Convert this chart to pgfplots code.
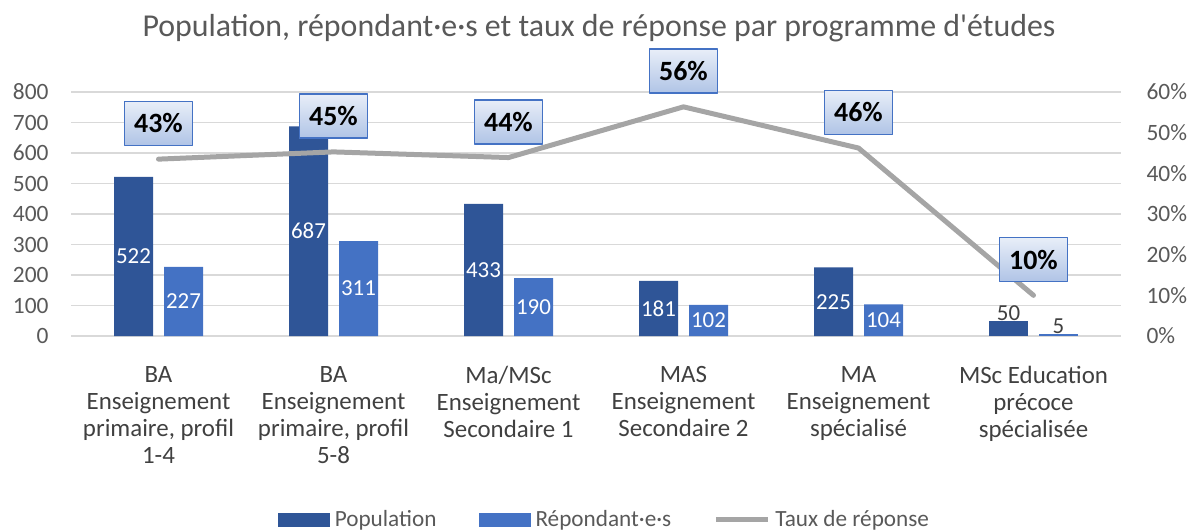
\documentclass[border=0pt]{standalone}
\usepackage{pgfplots}
\usepackage{pgfplotstable}
\pgfplotsset{compat=1.18}
\usepackage{fontspec}
\setmainfont{Carlito}
\usetikzlibrary{calc,shadings}
\definecolor{popc}{HTML}{2F5597}
\definecolor{repc}{HTML}{4472C4}
\definecolor{linec}{HTML}{A5A5A5}
\definecolor{gridc}{HTML}{D9D9D9}
\definecolor{txtc}{HTML}{595959}
\definecolor{darktxt}{HTML}{404040}
\definecolor{boxtop}{HTML}{E8EEF8}
\definecolor{boxbot}{HTML}{B0C4E6}
\pgfplotsset{/pgf/number format/assume math mode=true}

\pgfplotstableread{
x pop rep
0 522 227
1 687 311
2 433 190
3 181 102
4 225 104
}\bigbars
\pgfplotstableread{
x pop rep
5 50 5
}\smallbars
\pgfplotstableread{
x rate
0 43.49
1 45.27
2 43.88
3 56.35
4 46.22
5 10.00
}\rates

\begin{document}
\begin{tikzpicture}
\begin{axis}[
  name=main,
  scale only axis, width=1050bp, height=244bp,
  xmin=-0.5, xmax=5.5, ymin=0, ymax=800,
  axis line style={draw=none},
  major tick length=0pt,
  ytick={0,100,...,800},
  ymajorgrids, grid style={gridc, line width=1.5bp},
  yticklabel style={font=\fontsize{23.5}{26}\selectfont, text=txtc, xshift=-19bp},
  xtick={0,1,2,3,4,5},
  xticklabels={{BA\\Enseignement\\primaire, profil\\1-4},{BA\\Enseignement\\primaire, profil\\5-8},{Ma/MSc\\Enseignement\\Secondaire 1},{MAS\\Enseignement\\Secondaire 2},{MA\\Enseignement\\spécialisé},{MSc Education\\précoce\\spécialisée}},
  xticklabel style={align=center, anchor=north, yshift=-27bp, font=\fontsize{25}{27}\selectfont, text=darktxt},
  legend columns=3,
  legend style={draw=none, fill=none, at={(0.508,-0.752)}, anchor=center,
    font=\fontsize{23.3}{25}\selectfont, text=txtc,
    /tikz/every odd column/.append style={column sep=3bp},
    /tikz/every even column/.append style={column sep=40bp}},
  legend image code/.code={\fill[#1] (0bp,-7bp) rectangle (52bp,7bp);},
]
\addplot[ybar, bar width=39bp, bar shift=-25bp, fill=popc, draw=none,
  nodes near coords, visualization depends on=y \as \rawy,
  every node near coord/.append style={anchor=center, text=white, font=\fontsize{23}{25}\selectfont,
    xshift=-25bp, shift={(axis direction cs:0,-\rawy/2)}}]
  table[x=x,y=pop]{\bigbars};
\addlegendentry{Population}
\addplot[ybar, bar width=39bp, bar shift=25bp, fill=repc, draw=none,
  nodes near coords, visualization depends on=y \as \rawy,
  every node near coord/.append style={anchor=center, text=white, font=\fontsize{23}{25}\selectfont,
    xshift=25bp, shift={(axis direction cs:0,-\rawy/2)}}]
  table[x=x,y=rep]{\bigbars};
\addlegendentry{Répondant·e·s}
\addplot[ybar, forget plot, bar width=39bp, bar shift=-25bp, fill=popc, draw=none,
  nodes near coords,
  every node near coord/.append style={anchor=south, text=darktxt, font=\fontsize{23}{25}\selectfont, xshift=-25bp, yshift=-3bp}]
  table[x=x,y=pop]{\smallbars};
\addplot[ybar, forget plot, bar width=39bp, bar shift=25bp, fill=repc, draw=none,
  nodes near coords,
  every node near coord/.append style={anchor=south, text=darktxt, font=\fontsize{23}{25}\selectfont, xshift=25bp, yshift=-3bp}]
  table[x=x,y=rep]{\smallbars};
\addlegendimage{legend image code/.code={\draw[linec, line width=5bp] (0bp,0bp) -- (52bp,0bp);}}
\addlegendentry{Taux de réponse}
\end{axis}
\begin{axis}[
  scale only axis, width=1050bp, height=244bp,
  xmin=-0.5, xmax=5.5, ymin=0, ymax=60,
  axis line style={draw=none},
  major tick length=0pt,
  xtick=\empty,
  ytick={0,10,...,60},
  yticklabel pos=right,
  yticklabel={\pgfmathprintnumber{\tick}\%},
  yticklabel style={font=\fontsize{23.5}{26}\selectfont, text=txtc, xshift=22bp},
  clip=false,
]
\addplot[linec, line width=5bp, line cap=round, line join=round,
  nodes near coords={\pgfmathprintnumber[fixed,precision=0]{\pgfplotspointmeta}\%},
  every node near coord/.append style={anchor=south, yshift=13bp, draw=repc, line width=1.5bp,
    top color=boxtop, bottom color=boxbot, minimum width=68bp, minimum height=44bp,
    inner sep=2bp, font=\bfseries\fontsize{28}{30}\selectfont, text=black}]
  table[x=x,y=rate]{\rates};
\end{axis}
\node[font=\fontsize{32}{34}\selectfont, text=txtc] at ($(main.north)+(3bp,64bp)$) {Population, répondant·e·s et taux de réponse par programme d\textquotesingle études};
\pgfresetboundingbox
\path[use as bounding box] ($(main.south west)+(-71bp,-195bp)$) rectangle ($(main.north east)+(68bp,92bp)$);
\end{tikzpicture}
\end{document}
